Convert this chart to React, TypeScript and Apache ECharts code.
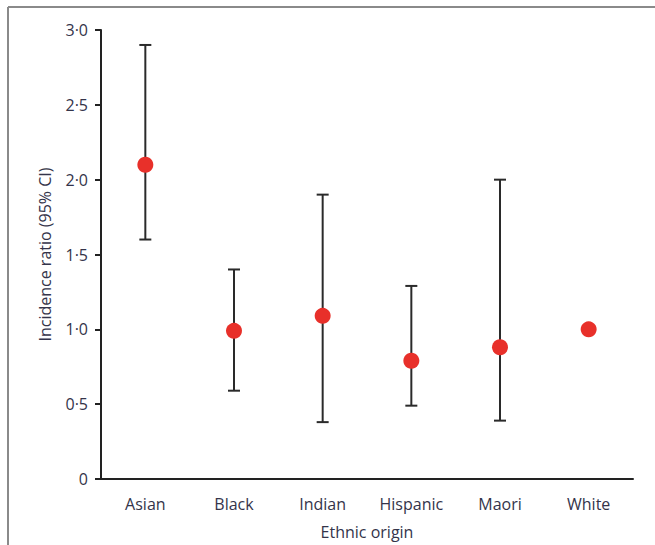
import React, { useEffect, useRef } from "react";
import * as echarts from "echarts";

const categories = ["Asian", "Black", "Indian", "Hispanic", "Maori", "White"];
const ratios = [2.1, 0.99, 1.09, 0.79, 0.88, 1.0];
const lower = [1.6, 0.59, 0.38, 0.49, 0.39, null];
const upper = [2.9, 1.4, 1.9, 1.29, 2.0, null];

const fmt = (v: number) => (v === 0 ? "0" : v.toFixed(1).replace(".", "·"));

export default function App() {
  const ref = useRef<HTMLDivElement>(null);
  useEffect(() => {
    if (!ref.current) return;
    const chart = echarts.init(ref.current, undefined, { renderer: "svg" });
    const font = "'Open Sans', 'Noto Sans', sans-serif";
    const textColor = "#34344a";
    const errData = categories
      .map((c, i) => (lower[i] == null ? null : [i, lower[i], upper[i]]))
      .filter((d) => d !== null);
    chart.setOption({
      animation: false,
      backgroundColor: "#ffffff",
      grid: { left: 101, right: 22, top: 30, bottom: 59 },
      xAxis: {
        type: "category",
        data: categories,
        name: "Ethnic origin",
        nameLocation: "middle",
        nameGap: 45,
        nameTextStyle: { fontFamily: font, fontSize: 16, color: textColor },
        axisLine: { lineStyle: { color: "#222", width: 2 } },
        axisTick: { alignWithLabel: true, length: 6, lineStyle: { color: "#222", width: 2 } },
        axisLabel: { fontFamily: font, fontSize: 16, color: textColor, margin: 17 },
      },
      yAxis: {
        type: "value",
        min: 0,
        max: 3,
        interval: 0.5,
        name: "Incidence ratio (95% CI)",
        nameLocation: "middle",
        nameGap: 48,
        nameTextStyle: { fontFamily: font, fontSize: 16, color: textColor },
        axisLine: { show: true, lineStyle: { color: "#222", width: 2 } },
        axisTick: { show: true, length: 6, lineStyle: { color: "#222", width: 2 } },
        splitLine: { show: false },
        axisLabel: { fontFamily: font, fontSize: 16, color: textColor, margin: 13, formatter: fmt },
      },
      graphic: [
        { type: "line", shape: { x1: 8, y1: 7, x2: 655, y2: 7 }, style: { stroke: "#8a8a8a", lineWidth: 2 } },
        { type: "line", shape: { x1: 8, y1: 7, x2: 8, y2: 545 }, style: { stroke: "#8a8a8a", lineWidth: 2 } },
      ],
      series: [
        {
          type: "custom",
          data: errData,
          renderItem: (params: any, api: any) => {
            const x = api.value(0);
            const lo = api.coord([x, api.value(1)]);
            const hi = api.coord([x, api.value(2)]);
            const hw = 6;
            const style = { stroke: "#2a2a2a", lineWidth: 2 };
            return {
              type: "group",
              children: [
                { type: "line", shape: { x1: lo[0], y1: lo[1], x2: hi[0], y2: hi[1] }, style },
                { type: "line", shape: { x1: lo[0] - hw, y1: lo[1], x2: lo[0] + hw, y2: lo[1] }, style },
                { type: "line", shape: { x1: hi[0] - hw, y1: hi[1], x2: hi[0] + hw, y2: hi[1] }, style },
              ],
            };
          },
          z: 2,
        },
        {
          type: "scatter",
          data: ratios,
          symbol: "circle",
          symbolSize: 16,
          itemStyle: { color: "#e8302a", opacity: 1 },
          z: 3,
        },
      ],
    });
    return () => chart.dispose();
  }, []);
  return (
    <div
      ref={ref}
      style={{ position: "fixed", left: 0, top: 0, width: 655, height: 545 }}
    />
  );
}
